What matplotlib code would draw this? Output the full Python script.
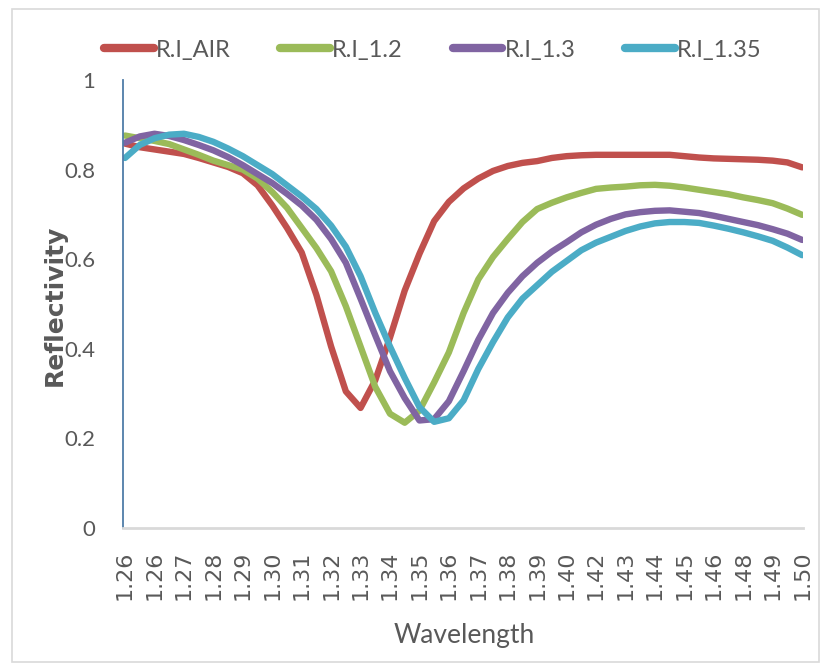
import numpy as np
import matplotlib
matplotlib.use("Agg")
import matplotlib.pyplot as plt
from matplotlib.patches import Rectangle

# ---- data -------------------------------------------------------------
tick_labels = ["1.26", "1.26", "1.27", "1.28", "1.29", "1.30", "1.31", "1.32",
               "1.33", "1.34", "1.35", "1.36", "1.37", "1.38", "1.39", "1.40",
               "1.42", "1.43", "1.44", "1.45", "1.46", "1.48", "1.49", "1.50"]

# samples every half category step (0, 0.5, ..., 23)
ri_air = [0.858, 0.850, 0.845, 0.840, 0.835, 0.826, 0.816, 0.806, 0.792, 0.765,
          0.720, 0.670, 0.615, 0.520, 0.405, 0.305, 0.268, 0.330, 0.425, 0.530,
          0.612, 0.685, 0.728, 0.758, 0.780, 0.797, 0.808, 0.815, 0.819, 0.826,
          0.830, 0.832, 0.833, 0.833, 0.833, 0.833, 0.833, 0.833, 0.830, 0.827,
          0.825, 0.824, 0.823, 0.822, 0.820, 0.816, 0.805]
ri_12 = [0.876, 0.870, 0.864, 0.857, 0.845, 0.833, 0.820, 0.810, 0.800, 0.780,
         0.750, 0.715, 0.670, 0.625, 0.573, 0.495, 0.405, 0.315, 0.255, 0.235,
         0.262, 0.325, 0.392, 0.480, 0.555, 0.605, 0.645, 0.683, 0.712, 0.726,
         0.738, 0.748, 0.757, 0.760, 0.762, 0.765, 0.766, 0.764, 0.760, 0.755,
         0.750, 0.745, 0.738, 0.732, 0.725, 0.713, 0.699]
ri_13 = [0.860, 0.874, 0.880, 0.875, 0.866, 0.855, 0.843, 0.828, 0.810, 0.790,
         0.770, 0.746, 0.720, 0.688, 0.645, 0.592, 0.512, 0.430, 0.350, 0.290,
         0.240, 0.243, 0.283, 0.350, 0.420, 0.480, 0.525, 0.562, 0.592, 0.617,
         0.638, 0.660, 0.677, 0.690, 0.700, 0.705, 0.708, 0.709, 0.706, 0.703,
         0.697, 0.690, 0.683, 0.676, 0.667, 0.657, 0.643]
ri_135 = [0.826, 0.855, 0.870, 0.878, 0.880, 0.873, 0.862, 0.847, 0.830, 0.810,
          0.790, 0.765, 0.740, 0.712, 0.675, 0.628, 0.562, 0.480, 0.405, 0.335,
          0.270, 0.237, 0.245, 0.285, 0.355, 0.415, 0.470, 0.512, 0.542, 0.572,
          0.596, 0.620, 0.637, 0.650, 0.663, 0.673, 0.680, 0.683, 0.683, 0.681,
          0.675, 0.668, 0.660, 0.651, 0.641, 0.626, 0.609]

series_names = ["R.I_AIR", "R.I_1.2", "R.I_1.3", "R.I_1.35"]
series_values = [ri_air, ri_12, ri_13, ri_135]
colors = ["#C0504D", "#9BBB59", "#8064A2", "#4BACC6"]

x_pos = np.arange(len(ri_air)) * 0.5

# ---- figure -----------------------------------------------------------
W, H = 826, 666
fig = plt.figure(figsize=(W / 100, H / 100), dpi=100)
narrow = ["Lato", "DejaVu Sans"]
gray = "#595959"

ax = fig.add_axes([123 / W, 1 - 528 / H, (803 - 123) / W, (528 - 80) / H])

lines = []
for name, vals, c in zip(series_names, series_values, colors):
    ln, = ax.plot(x_pos, vals, color=c, lw=4.6, solid_capstyle="round",
                  solid_joinstyle="round", label=name)
    lines.append(ln)

ax.set_xlim(-0.07, 23.03)
ax.set_ylim(0, 1)
ax.set_yticks([0, 0.2, 0.4, 0.6, 0.8, 1.0])
ax.set_yticklabels(["0", "0.2", "0.4", "0.6", "0.8", "1"], family=narrow,
                   fontsize=16, color=gray)
ax.set_xticks(np.arange(len(tick_labels)))
ax.set_xticklabels(tick_labels, rotation=90, fontsize=16, color=gray,
                   family="DejaVu Sans")
ax.tick_params(axis="both", length=0)
ax.tick_params(axis="y", pad=20)
ax.tick_params(axis="x", pad=16)

for s in ["top", "right"]:
    ax.spines[s].set_visible(False)
ax.spines["left"].set_color("#4F7DA8")
ax.spines["left"].set_linewidth(1.3)
ax.spines["bottom"].set_color("#D9D9D9")
ax.spines["bottom"].set_linewidth(2)

fig.text(55 / W, 1 - 305 / H, "Reflectivity", rotation=90, ha="center",
         va="center", fontsize=18, fontweight="bold", color=gray,
         family="DejaVu Sans")
fig.text(464 / W, 1 - 636 / H, "Wavelength", ha="center", va="center",
         fontsize=19, color=gray, family=narrow)

leg = fig.legend(handles=lines, labels=series_names, loc="center left",
                 bbox_to_anchor=(104 / W, 1 - 50 / H), ncol=4, frameon=False,
                 prop={"family": narrow, "size": 17}, handlelength=2.1,
                 handletextpad=0.1, columnspacing=2.1, borderpad=0,
                 borderaxespad=0)
for t in leg.get_texts():
    t.set_color(gray)
for h in leg.legend_handles:
    h.set_linewidth(6)
    h.set_solid_capstyle("round")

fig.patches.append(Rectangle((12 / W, 1 - 662 / H), (819 - 12) / W, (662 - 9) / H,
                             transform=fig.transFigure, fill=False,
                             edgecolor="#D9D9D9", lw=1.2))

fig.savefig("out.png", dpi=100, facecolor="white")
